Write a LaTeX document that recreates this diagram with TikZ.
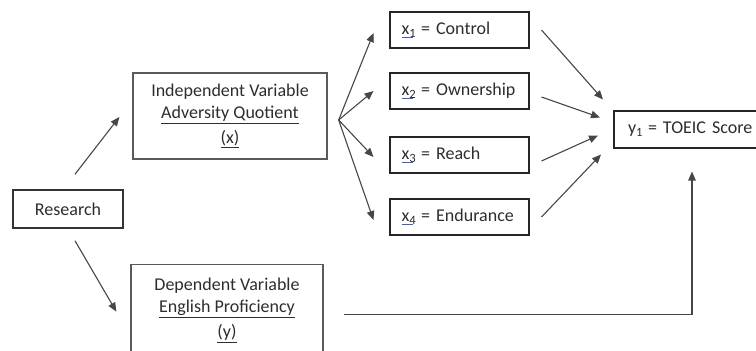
\documentclass[tikz,border=0pt]{standalone}
\usepackage{fontspec}
\setmainfont{Carlito}
\usepackage{xcolor}
\usepackage{tikz}
\usetikzlibrary{arrows.meta,positioning,calc}
\definecolor{inkgray}{RGB}{45,45,45}
\definecolor{linegray}{RGB}{70,70,70}
\definecolor{framegray}{RGB}{90,90,90}
\definecolor{spellblue}{RGB}{70,90,200}
\newcommand{\spellx}[1]{\leavevmode\rlap{\textcolor{spellblue}{\rule[-3.5pt]{11pt}{0.7pt}}}x\textsubscript{#1}\kern-1pt\relax}

\begin{document}
\begin{tikzpicture}[x=1pt, y=-1pt,
  every node/.style={font=\fontsize{18}{22}\selectfont, text=inkgray},
  varbox/.style={draw=framegray, line width=1.3pt, minimum width=194pt,
    minimum height=86pt, align=center},
  dimbox/.style={draw=black!85, line width=2pt, text width=115pt,
    inner xsep=12pt, minimum height=36pt, align=left},
  link/.style={draw=linegray, line width=1.1pt,
    -{Triangle[length=9pt,width=7.5pt]}}]
  \useasboundingbox (0,0) rectangle (756,351);
  \clip (0,0) rectangle (756,351);

  % Left column
  \node[draw=black!80, line width=1.5pt, minimum width=110pt, minimum height=38pt]
    (research) at (68,209) {Research};
  \node[varbox] (indep) at (230,116)
    {Independent Variable\\ \underline{Adversity Quotient}\\[3pt] \underline{(x)}};
  \node[varbox, anchor=north, minimum width=192pt, minimum height=92pt]
    (dep) at (227,264)
    {Dependent Variable\\ \underline{English Proficiency}\\[3pt] \underline{(y)}};

  % Dimensions
  \node[dimbox] (x1) at (459,30)  {\spellx{1} = Control};
  \node[dimbox] (x2) at (459,91)  {\spellx{2} = Ownership};
  \node[dimbox] (x3) at (459,155) {\spellx{3} = Reach};
  \node[dimbox] (x4) at (459,217) {\spellx{4} = Endurance};

  % Outcome
  \node[draw=black!85, line width=2pt, anchor=west, text width=140pt,
    inner xsep=14pt, minimum height=37pt, align=left]
    (y1) at (613,129.5) {y\textsubscript{1}\kern-1pt{} = TOEIC Score};

  % Arrows from research
  \draw[link] ($(research.north)+(7,-15)$) -- ($(indep.west)+(-13,1)$);
  \draw[link] ($(research.south)+(7,12)$) -- ($(dep.west)+(-14,1)$);

  % Fan to the four dimensions
  \coordinate (fan) at ($(indep.east)+(11,4)$);
  \foreach \k/\dy in {1/3, 2/0, 3/2, 4/3}
    \draw[link] (fan) -- ($(x\k.west)+(-15,\dy)$);

  % Dimensions to score
  \foreach \k/\sy/\tx/\ty in {1/0/-10/-30, 2/6/-13/-12, 3/6/-15/6, 4/0/-12/25}
    \draw[link] ($(x\k.east)+(12,\sy)$) -- ($(y1.west)+(\tx,\ty)$);

  % Dependent variable to score
  \draw[link] ($(dep.east)+(20,4)$) -| ($(y1.west)+(79,42)$);
\end{tikzpicture}
\end{document}
